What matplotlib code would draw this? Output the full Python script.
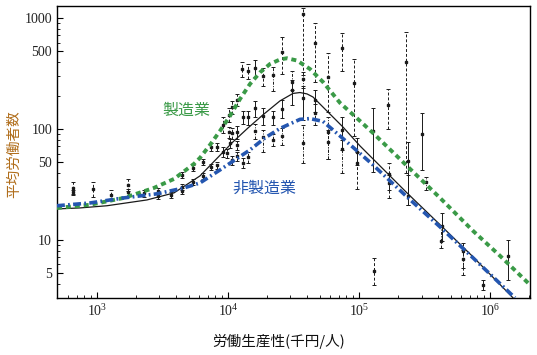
import numpy as np
import matplotlib.pyplot as plt
from matplotlib.ticker import LogLocator, NullFormatter

# 全体 (黒実線)
all_x = [495, 742, 1192, 2408, 3871, 6113, 10920, 14210, 18500, 24940, 31350, 35440,
         40100, 44570, 56980, 75500, 101800, 127900, 232500, 415300, 741800, 1498000]
all_y = [19.0, 19.4, 20.3, 22.9, 26.5, 37.7, 76.4, 102, 134, 179, 209, 213,
         207, 194, 145, 104, 70.3, 53.7, 26.5, 13.7, 7.03, 3.0]

# 製造業 (緑破線)
mfg_x = [495, 884, 1607, 2724, 3871, 5502, 6113, 7291, 8690, 10360, 12350, 14720, 17550,
         20920, 24940, 28210, 33630, 42270, 53120, 71610, 101800, 127900, 232500, 415300,
         741800, 1192000, 2020000]
mfg_y = [19.4, 20.7, 23.9, 29.4, 35.4, 48.4, 54.8, 71.8, 95.9, 131, 186, 254, 323,
         385, 423, 434, 414, 347, 265, 172, 118, 92.0, 46.4, 23.9,
         12.05, 7.18, 3.93]

# 非製造業 (青一点鎖線)
non_x = [495, 884, 1607, 2871, 4614, 6113, 8690, 11310, 14720, 19160, 24940, 35440,
         42270, 53120, 71610, 101800, 127900, 232500, 415300, 741800, 1551000]
non_y = [20.3, 21.5, 23.9, 26.0, 29.4, 32.6, 42.7, 52.6, 64.7, 83.0, 101, 122,
         124, 117, 86.5, 60.2, 47.4, 24.4, 13.1, 6.88, 3.0]

# 観測点と誤差範囲
pt_x = [656, 656, 932, 1279, 1724, 1724, 2284, 2922, 2922, 3672, 4455, 4455, 4455,
        5405, 5405, 6444, 6444, 7417, 7417, 8242, 8242, 9159, 9159, 9826, 10180, 10180,
        10360, 10730, 10730, 10730, 11710, 11710, 11710, 11710, 12790, 13020, 13020,
        14210, 14210, 14210, 16070, 16070, 16070, 18500, 18500, 18500, 22060, 22060,
        22060, 25830, 25830, 25830, 30800, 30800, 37370, 37370, 37370, 37370, 46140,
        46140, 46140, 57980, 57980, 57980, 74170, 74170, 74170, 91590, 96540, 96540,
        127900, 130200, 166500, 169500, 169500, 228500, 236600, 236600, 302600, 324700,
        430200, 422700, 622200, 622200, 884300, 1372000]
pt_y = [29.4, 27.0, 28.8, 25.4, 31.3, 27.0, 26.5, 27.6, 24.9, 25.4, 38.5, 30.0, 27.6,
        44.5, 33.3, 50.4, 37.7, 68.9, 45.5, 68.9, 47.4, 109, 62.1, 60.8, 134, 93.9,
        74.8, 158, 92.0, 52.6, 183, 93.9, 71.8, 57.1, 347, 128, 49.4,
        333, 128, 55.9, 355, 155, 95.9, 300, 131, 84.7, 307, 128,
        79.6, 494, 151, 86.5, 225, 265, 1088, 282, 190, 74.8, 596,
        183, 139, 294, 93.9, 76.4, 537, 97.9, 66.1, 260, 62.1, 49.4,
        95.9, 5.25, 165, 39.3, 32.6, 402, 51.5, 24.9, 90.1, 33.3,
        13.4, 9.79, 7.95, 6.74, 3.93, 7.18]
pt_lo = [26.0, 25.4, 24.4, 22.9, 27.6, 24.9, 24.4, 26.0, 23.4, 23.9, 36.2, 28.2, 26.0,
         41.8, 31.3, 47.4, 35.4, 63.4, 42.7, 63.4, 43.6, 92.0, 55.9, 54.8, 116, 83.0,
         67.4, 137, 81.3, 47.4, 161, 81.3, 64.7, 51.5, 294, 111, 44.5,
         282, 109, 49.4, 294, 128, 81.3, 244, 109, 62.1, 220, 109,
         70.3, 313, 126, 71.8, 165, 225, 307, 234, 121, 49.4, 265,
         142, 109, 142, 53.7, 53.7, 333, 64.7, 40.1, 86.5, 47.4, 28.8,
         41.0, 3.93, 100, 23.9, 28.2, 40.1, 20.7, 20.7, 42.7, 28.2,
         9.79, 8.5, 4.83, 5.59, 3.54, 4.36]
pt_hi = [33.3, 28.2, 33.3, 28.2, 35.4, 28.8, 28.2, 29.4, 26.5, 27.0, 41.0, 31.9, 29.4,
         47.4, 35.4, 53.7, 40.1, 74.8, 48.4, 74.8, 50.4, 128, 68.9, 66.1, 155, 104,
         81.3, 179, 102, 57.1, 207, 106, 78.0, 62.1, 402, 145, 54.8,
         385, 145, 62.1, 419, 179, 111, 355, 155, 97.9, 362, 145,
         90.1, 675, 183, 102, 276, 333, 1232, 326, 244, 109, 903,
         225, 168, 484, 128, 97.9, 733, 128, 79.6, 428, 83.0, 62.1,
         155, 6.88, 229, 49.4, 38.5, 749, 76.4, 38.5, 139, 36.9,
         17.5, 13.4, 9.39, 8.12, 4.36, 9.99]
pt_style = ['--', '-.', '--', '--', '--', '-.', '-', '--', '-.', '-', '-', '--', '-.',
            '-', '-.', '-', '-.', '--', '-', '--', '-.', '--', '-', '-.', '--', '--',
            '-', '--', '-.', '-.', '--', '-', '-.', '-.', '--', '-', '-.',
            '--', '-', '-.', '-', '-', '-.', '--', '-', '-.', '-.', '-',
            '-.', '--', '-', '-.', '-', '-.', '--', '-.', '-', '-.', '--',
            '-', '-.', '--', '-.', '-.', '--', '-', '-.', '--', '-', '--',
            '-', '--', '--', '--', '-.', '--', '-', '-.', '-', '-.',
            '-', '-.', '--', '-.', '-', '-']

y_tick_vals = [5, 10, 50, 100, 500, 1000]
y_tick_labels = ['5', '10', '50', '100', '500', '1000']

plt.rcParams['font.family'] = ['Liberation Serif', 'Noto Sans CJK JP']
plt.rcParams['mathtext.default'] = 'regular'
jp = ['Noto Sans CJK JP', 'DejaVu Sans']

fig, ax = plt.subplots(figsize=(5.37, 3.55), dpi=100)
fig.subplots_adjust(left=0.106, right=0.987, bottom=0.161, top=0.983)

bar_ls = {'-': '-', '--': (0, (3, 2)), '-.': (0, (3, 1.5, 1, 1.5))}
px, py = np.array(pt_x, float), np.array(pt_y, float)
plo, phi = np.array(pt_lo, float), np.array(pt_hi, float)
for s in ['-', '--', '-.']:
    m = np.array([st == s for st in pt_style])
    eb = ax.errorbar(px[m], py[m], yerr=[py[m] - plo[m], phi[m] - py[m]],
                     fmt='s', ms=1.9, color='#1a1a1a', ecolor='#1a1a1a',
                     elinewidth=0.7, capsize=1.5, capthick=0.7, zorder=2)
    eb[2][0].set_linestyle(bar_ls[s])

ax.plot(all_x, all_y, color='#1a1a1a', lw=0.9, zorder=3)
ax.plot(mfg_x, mfg_y, color='#3a9a47', lw=2.8, dashes=(1.3, 1.0), zorder=4)
ax.plot(non_x, non_y, color='#2456b0', lw=2.6, dashes=(2.2, 0.9, 0.5, 0.9), zorder=4)

ax.set_xscale('log')
ax.set_yscale('log')
ax.set_xlim(495, 2.02e6)
ax.set_ylim(3.0, 1283)

ax.xaxis.set_major_locator(LogLocator(base=10, numticks=10))
ax.xaxis.set_minor_locator(LogLocator(base=10, subs=np.arange(2, 10), numticks=20))
ax.xaxis.set_minor_formatter(NullFormatter())
ax.set_yticks(y_tick_vals)
ax.set_yticklabels(y_tick_labels)
ax.yaxis.set_minor_locator(LogLocator(base=10, subs=np.arange(1, 10), numticks=20))
ax.yaxis.set_minor_formatter(NullFormatter())
ax.tick_params(which='both', direction='in', top=False, right=False, labelsize=10,
               labelcolor='#222222')
ax.tick_params(which='major', length=4, width=0.8)
ax.tick_params(which='minor', length=2.2, width=0.6)
for sp in ax.spines.values():
    sp.set_linewidth(1.0)

fig.text(0.348, 0.690, '製造業', color='#3a9a47', fontsize=11.5, family=jp,
         ha='center', va='center')
fig.text(0.492, 0.470, '非製造業', color='#2456b0', fontsize=11.5, family=jp,
         ha='center', va='center')
fig.text(0.026, 0.565, '平均労働者数', color='#b06d1a', fontsize=10.5, family=jp,
         rotation=90, ha='center', va='center')
fig.text(0.518, 0.037, '労働生産性(千円/人)', color='#111111', fontsize=10.5, family=jp,
         ha='center', va='center')

fig.savefig('out.png', dpi=100)
